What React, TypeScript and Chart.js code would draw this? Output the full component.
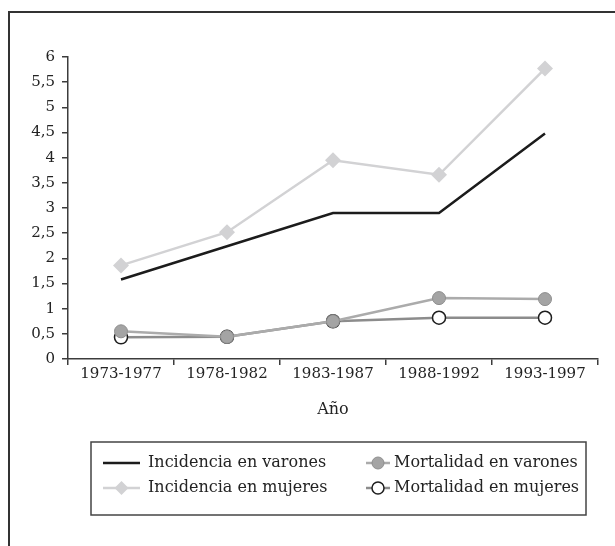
import React, { useEffect, useRef } from 'react';
import { Chart, registerables } from 'chart.js';

Chart.register(...registerables);

const categories = ['1973-1977', '1978-1982', '1983-1987', '1988-1992', '1993-1997'];
const incidenciaVarones = [1.58, 2.24, 2.9, 2.9, 4.48];
const incidenciaMujeres = [1.86, 2.52, 3.95, 3.66, 5.77];
const mortalidadVarones = [0.55, 0.44, 0.75, 1.21, 1.19];
const mortalidadMujeres = [0.43, 0.44, 0.75, 0.82, 0.82];
const seriesNames = [
  'Incidencia en varones',
  'Mortalidad en varones',
  'Incidencia en mujeres',
  'Mortalidad en mujeres',
];
const yMin = 0;
const yMax = 6;
const yStep = 0.5;
const xTitle = 'Año';

const FONT = "'DejaVu Serif', serif";
const TEXT = '#232323';
const AXIS = '#3c3c3c';

const C_INC_V = '#1c1c1c';
const C_INC_M = '#d2d2d4';
const C_MORT_V_LINE = '#ababab';
const C_MORT_V_PT = '#a4a4a4';
const C_MORT_M_LINE = '#8c8c8c';

const decorPlugin = {
  id: 'decor',
  beforeDraw(chart: any) {
    const { ctx, width, height } = chart;
    ctx.save();
    ctx.fillStyle = '#ffffff';
    ctx.fillRect(0, 0, width, height);
    ctx.strokeStyle = '#333333';
    ctx.lineWidth = 2;
    ctx.beginPath();
    ctx.moveTo(width, 12);
    ctx.lineTo(9, 12);
    ctx.lineTo(9, height);
    ctx.stroke();
    ctx.restore();
  },
  afterDraw(chart: any) {
    const { ctx, chartArea } = chart;
    ctx.save();
    // axis title
    ctx.fillStyle = TEXT;
    ctx.font = `16px ${FONT}`;
    ctx.textAlign = 'center';
    ctx.textBaseline = 'middle';
    ctx.fillText(xTitle, (chartArea.left + chartArea.right) / 2, 410);

    // legend box
    const bx = 91, by = 442, bw = 586 - 91, bh = 515 - 442;
    ctx.strokeStyle = '#444444';
    ctx.lineWidth = 1.5;
    ctx.strokeRect(bx, by, bw, bh);

    const rows = [463, 488];
    const cols = [
      { x0: 103, x1: 140, tx: 148 },
      { x0: 366, x1: 390, tx: 394 },
    ];
    const items = chart.data.datasets;
    const positions = [
      [0, 0],
      [1, 0],
      [0, 1],
      [1, 1],
    ];
    items.forEach((ds: any, i: number) => {
      const [c, r] = positions[i];
      const col = cols[c];
      const y = rows[r];
      ctx.strokeStyle = ds.borderColor;
      ctx.lineWidth = ds.borderWidth;
      ctx.beginPath();
      ctx.moveTo(col.x0, y);
      ctx.lineTo(col.x1, y);
      ctx.stroke();
      const cx = (col.x0 + col.x1) / 2;
      if (ds.pointStyle === 'rectRot') {
        const rr = 7;
        ctx.fillStyle = ds.pointBackgroundColor;
        ctx.beginPath();
        ctx.moveTo(cx, y - rr);
        ctx.lineTo(cx + rr, y);
        ctx.lineTo(cx, y + rr);
        ctx.lineTo(cx - rr, y);
        ctx.closePath();
        ctx.fill();
      } else if (ds.pointRadius > 0) {
        ctx.fillStyle = ds.pointBackgroundColor;
        ctx.strokeStyle = ds.pointBorderColor;
        ctx.lineWidth = ds.pointBorderWidth;
        ctx.beginPath();
        ctx.arc(cx, y, 6, 0, Math.PI * 2);
        ctx.fill();
        ctx.stroke();
      }
      ctx.fillStyle = TEXT;
      ctx.font = `16px ${FONT}`;
      ctx.textAlign = 'left';
      ctx.textBaseline = 'middle';
      ctx.fillText(ds.label, col.tx, y);
    });
    ctx.restore();
  },
};

export default function App() {
  const ref = useRef<HTMLCanvasElement | null>(null);

  useEffect(() => {
    if (!ref.current) return;
    const chart = new Chart(ref.current, {
      type: 'line',
      data: {
        labels: categories,
        datasets: [
          {
            label: seriesNames[0],
            data: incidenciaVarones,
            borderColor: C_INC_V,
            borderWidth: 2.5,
            pointRadius: 0,
            pointBackgroundColor: C_INC_V,
            tension: 0,
            order: 0,
          },
          {
            label: seriesNames[1],
            data: mortalidadVarones,
            borderColor: C_MORT_V_LINE,
            borderWidth: 2.5,
            pointStyle: 'circle',
            pointRadius: 6.5,
            pointBackgroundColor: C_MORT_V_PT,
            pointBorderColor: '#8f8f8f',
            pointBorderWidth: 1,
            tension: 0,
            order: 1,
          },
          {
            label: seriesNames[2],
            data: incidenciaMujeres,
            borderColor: C_INC_M,
            borderWidth: 2.5,
            pointStyle: 'rectRot',
            pointRadius: 8,
            pointBackgroundColor: C_INC_M,
            pointBorderColor: C_INC_M,
            pointBorderWidth: 0,
            tension: 0,
            order: 3,
          },
          {
            label: seriesNames[3],
            data: mortalidadMujeres,
            borderColor: C_MORT_M_LINE,
            borderWidth: 2.5,
            pointStyle: 'circle',
            pointRadius: 6.5,
            pointBackgroundColor: '#ffffff',
            pointBorderColor: '#1e1e1e',
            pointBorderWidth: 1.5,
            tension: 0,
            order: 2,
          },
        ],
      },
      options: {
        responsive: true,
        maintainAspectRatio: false,
        animation: false,
        layout: { padding: { top: 57, right: 17, left: 0, bottom: 0 } },
        font: { family: FONT },
        plugins: {
          legend: { display: false },
          tooltip: { enabled: false },
          title: { display: false },
        },
        scales: {
          x: {
            type: 'category',
            offset: true,
            grid: {
              offset: true,
              drawOnChartArea: false,
              drawTicks: true,
              tickLength: 6,
              color: AXIS,
              lineWidth: 1.5,
            },
            border: { display: true, color: AXIS, width: 1.5 },
            ticks: {
              font: { family: FONT, size: 15 },
              color: TEXT,
              padding: 0,
              maxRotation: 0,
              autoSkip: false,
            },
            afterFit: (s: any) => {
              s.height = 187;
            },
          },
          y: {
            min: yMin,
            max: yMax,
            grid: {
              drawOnChartArea: false,
              drawTicks: true,
              tickLength: 6,
              color: AXIS,
              lineWidth: 1.5,
            },
            border: { display: true, color: AXIS, width: 1.5 },
            ticks: {
              stepSize: yStep,
              font: { family: FONT, size: 15 },
              color: TEXT,
              padding: 7,
              callback: (v: any) => String(v).replace('.', ','),
            },
            afterFit: (s: any) => {
              s.width = 68;
            },
          },
        },
      } as any,
      plugins: [decorPlugin],
    });
    return () => chart.destroy();
  }, []);

  return (
    <div style={{ position: 'absolute', left: 0, top: 0, width: 615, height: 546 }}>
      <canvas ref={ref} />
    </div>
  );
}
